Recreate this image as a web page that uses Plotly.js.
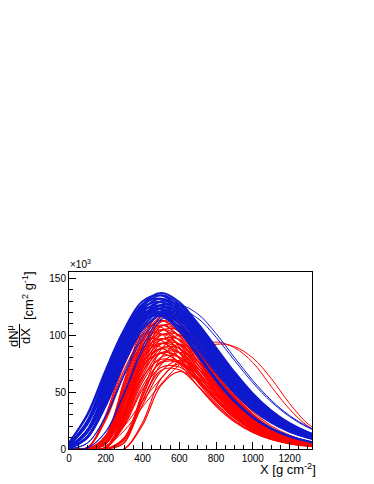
<!DOCTYPE html>
<html>
<head>
<meta charset="utf-8">
<script src="https://cdn.plot.ly/plotly-3.0.1.min.js"></script>
<style>
  body { margin: 0; background: #fff; }
  #chart { width: 374px; height: 484px; }
</style>
</head>
<body>
<div id="chart"></div>
<script>
// slant depth grid (g cm^-2), shared by every profile
const depth = [0, 100, 200, 300, 400, 500, 600, 700, 800, 900, 1000, 1100, 1200, 1300, 1400]

// muon production profiles dN/dX, in units of 10^3
const redProfiles = [
  [0, 1.4, 30.2, 77.9, 106.6, 107.1, 89.5, 66.2, 44.9, 28.5, 17.2, 10.0, 5.6, 3.1, 1.6],
  [0, 1.3, 28.5, 73.6, 100.8, 101.3, 84.7, 62.6, 42.4, 26.9, 16.3, 9.4, 5.3, 2.9, 1.5],
  [0, 1.2, 26.9, 69.4, 95.0, 95.5, 79.8, 59.0, 40.0, 25.4, 15.3, 8.9, 5.0, 2.7, 1.4],
  [0, 1.2, 25.3, 65.1, 89.2, 89.6, 74.9, 55.4, 37.5, 23.8, 14.4, 8.3, 4.7, 2.6, 1.4],
  [0, 0, 12.0, 60.0, 105.5, 121, 109.7, 85.8, 60.5, 39.6, 24.5, 14.5, 8.3, 4.6, 2.5],
  [0, 0, 11.6, 58.0, 102.0, 117, 106.1, 83.0, 58.5, 38.3, 23.7, 14.0, 8.0, 4.4, 2.4],
  [0, 0, 11.2, 56.0, 98.5, 113, 102.5, 80.1, 56.5, 37.0, 22.9, 13.5, 7.7, 4.3, 2.3],
  [0, 0, 10.8, 54.1, 95.0, 109, 98.9, 77.3, 54.5, 35.7, 22.1, 13.0, 7.4, 4.1, 2.2],
  [0, 0, 10.4, 52.1, 91.6, 105, 95.2, 74.4, 52.5, 34.4, 21.3, 12.6, 7.2, 4.0, 2.1],
  [0, 0, 10.0, 50.1, 88.1, 101, 91.6, 71.6, 50.5, 33.1, 20.5, 12.1, 6.9, 3.8, 2.1],
  [0, 0, 9.6, 48.1, 84.6, 97, 88.0, 68.8, 48.5, 31.8, 19.6, 11.6, 6.6, 3.7, 2.0],
  [0, 0, 9.2, 46.1, 81.1, 93, 84.4, 65.9, 46.5, 30.5, 18.8, 11.1, 6.3, 3.5, 1.9],
  [0, 0, 8.7, 43.6, 76.7, 88, 79.8, 62.4, 44.0, 28.8, 17.8, 10.5, 6.0, 3.3, 1.8],
  [0, 0, 8.3, 41.7, 73.2, 84, 76.2, 59.6, 42.0, 27.5, 17.0, 10.1, 5.7, 3.2, 1.7],
  [0, 0, 6.8, 46.6, 95.6, 119.2, 113.8, 92.1, 66.7, 44.5, 27.9, 16.7, 9.6, 5.4, 2.9],
  [0, 0, 6.6, 45.5, 93.2, 116.2, 111.0, 89.9, 65.0, 43.4, 27.2, 16.3, 9.4, 5.2, 2.8],
  [0, 0, 6.4, 43.9, 90.1, 112.3, 107.2, 86.8, 62.8, 41.9, 26.3, 15.7, 9.1, 5.1, 2.7],
  [0, 0, 6.1, 42.4, 86.9, 108.3, 103.5, 83.8, 60.6, 40.5, 25.4, 15.2, 8.7, 4.9, 2.7],
  [0, 0, 5.9, 40.8, 83.7, 104.4, 99.7, 80.7, 58.4, 39.0, 24.5, 14.6, 8.4, 4.7, 2.6],
  [0, 0, 5.7, 39.3, 80.6, 100.4, 95.9, 77.7, 56.2, 37.5, 23.5, 14.1, 8.1, 4.5, 2.5],
  [0, 0, 5.5, 37.8, 77.4, 96.5, 92.2, 74.6, 54.0, 36.0, 22.6, 13.5, 7.8, 4.3, 2.4],
  [0, 0, 5.2, 36.2, 74.3, 92.6, 88.4, 71.6, 51.8, 34.6, 21.7, 13.0, 7.5, 4.2, 2.3],
  [0, 0, 5.0, 34.7, 71.1, 88.6, 84.6, 68.5, 49.6, 33.1, 20.8, 12.4, 7.2, 4.0, 2.2],
  [0, 0, 4.8, 33.1, 67.9, 84.7, 80.9, 65.5, 47.4, 31.6, 19.8, 11.9, 6.8, 3.8, 2.1],
  [0, 0, 4.5, 30.8, 63.2, 78.8, 75.2, 60.9, 44.1, 29.4, 18.5, 11.0, 6.4, 3.5, 1.9],
  [0, 0, 1.5, 32.7, 84.3, 115.4, 115.9, 96.9, 71.6, 48.6, 30.8, 18.6, 10.8, 6.1, 3.3],
  [0, 0, 1.4, 31.6, 81.4, 111.5, 112.0, 93.6, 69.2, 46.9, 29.8, 18.0, 10.4, 5.9, 3.2],
  [0, 0, 1.4, 30.5, 78.6, 107.6, 108.1, 90.4, 66.8, 45.3, 28.7, 17.4, 10.1, 5.6, 3.1],
  [0, 0, 1.3, 29.4, 75.8, 103.7, 104.2, 87.1, 64.4, 43.7, 27.7, 16.7, 9.7, 5.4, 3.0],
  [0, 0, 1.3, 28.3, 72.9, 99.9, 100.3, 83.8, 62.0, 42.0, 26.7, 16.1, 9.3, 5.2, 2.9],
  [0, 0, 1.2, 27.2, 70.1, 96.0, 96.4, 80.6, 59.6, 40.4, 25.6, 15.5, 9.0, 5.0, 2.8],
  [0, 0, 1.2, 26.1, 67.3, 92.1, 92.5, 77.3, 57.2, 38.8, 24.6, 14.9, 8.6, 4.8, 2.6],
  [0, 0, 1.1, 25.0, 64.4, 88.2, 88.6, 74.1, 54.8, 37.1, 23.6, 14.2, 8.3, 4.6, 2.5],
  [0, 0, 1.1, 23.9, 61.6, 84.3, 84.7, 70.8, 52.4, 35.5, 22.5, 13.6, 7.9, 4.4, 2.4],
  [0, 0, 1.0, 22.8, 58.8, 80.5, 80.8, 67.6, 50.0, 33.9, 21.5, 13.0, 7.5, 4.2, 2.3],
  [0, 0, 1.0, 21.4, 55.2, 75.6, 76.0, 63.5, 47.0, 31.8, 20.2, 12.2, 7.1, 4.0, 2.2],
  [0, 0, 0.9, 20.3, 52.4, 71.7, 72.1, 60.2, 44.5, 30.2, 19.2, 11.6, 6.7, 3.8, 2.1],
  [0, 0, 0, 9.9, 49.6, 87.2, 100, 90.7, 70.9, 50.0, 32.8, 20.3, 12.0, 6.8, 3.8],
  [0, 0, 0, 9.1, 45.6, 80.2, 92, 83.4, 65.2, 46.0, 30.1, 18.6, 11.0, 6.3, 3.5],
  [0, 0, 0, 8.4, 42.2, 74.1, 85, 77.1, 60.3, 42.5, 27.8, 17.2, 10.2, 5.8, 3.2],
  [0, 0, 0, 7.7, 38.7, 68.0, 78, 70.7, 55.3, 39.0, 25.6, 15.8, 9.3, 5.3, 2.9],
  [0, 0, 0, 5.9, 47.2, 76.6, 77.3, 61.8, 43.0, 27.4, 16.3, 9.2, 5.0, 2.7, 1.4],
  [0, 0, 0, 5.3, 42.5, 69.0, 69.6, 55.6, 38.7, 24.6, 14.7, 8.3, 4.5, 2.4, 1.2],
  [0, 0, 0, 0, 23.1, 61.6, 75, 66.2, 49.0, 32.5, 19.9, 11.6, 6.4, 3.5, 1.8],
  [0, 0, 0, 0, 20.9, 55.9, 68, 60.0, 44.5, 29.4, 18.1, 10.5, 5.8, 3.1, 1.6]
]

// the two late red showers that come out above the blue band
const redLateProfiles = [
  [0, 0, 5, 20, 42, 62, 78, 89, 94, 89, 76, 55, 35, 20, 11],
  [0, 0, 3, 16, 37, 57, 74, 86, 92, 90, 80, 62, 40, 22, 12]
]

const blueProfiles = [
  [1.2, 16.8, 54.1, 97.0, 127.1, 137, 129.1, 110.3, 87.4, 65.4, 46.6, 32.0, 21.3, 13.7, 8.7],
  [1.2, 16.6, 53.3, 95.5, 125.3, 135, 127.2, 108.7, 86.2, 64.4, 46.0, 31.5, 21.0, 13.5, 8.5],
  [1.1, 16.2, 52.1, 93.4, 122.5, 132, 124.3, 106.2, 84.3, 63.0, 44.9, 30.8, 20.5, 13.2, 8.3],
  [1.1, 15.8, 51.0, 91.3, 119.7, 129, 121.5, 103.8, 82.3, 61.6, 43.9, 30.1, 20.0, 12.9, 8.2],
  [1.1, 15.5, 49.8, 89.2, 116.9, 126, 118.7, 101.4, 80.4, 60.2, 42.9, 29.4, 19.6, 12.6, 8.0],
  [1.1, 15.1, 48.6, 87.0, 114.1, 123, 115.9, 99.0, 78.5, 58.7, 41.9, 28.7, 19.1, 12.3, 7.8],
  [1.0, 14.7, 47.4, 84.9, 111.4, 120, 113.0, 96.6, 76.6, 57.3, 40.9, 28.0, 18.6, 12.0, 7.6],
  [3.6, 24.9, 64.7, 104.9, 129.9, 135.0, 123.9, 103.9, 81.2, 60.0, 42.4, 28.9, 19.1, 12.3, 7.7],
  [3.5, 24.4, 63.2, 102.6, 127.1, 132.0, 121.2, 101.6, 79.4, 58.7, 41.5, 28.3, 18.6, 12.0, 7.5],
  [3.4, 23.8, 61.8, 100.3, 124.2, 129.0, 118.4, 99.3, 77.6, 57.4, 40.6, 27.6, 18.2, 11.7, 7.3],
  [3.4, 23.3, 60.4, 98.0, 121.3, 126.0, 115.7, 97.0, 75.8, 56.1, 39.6, 27.0, 17.8, 11.4, 7.2],
  [3.3, 22.7, 58.9, 95.7, 118.5, 123.0, 113.0, 94.7, 74.0, 54.7, 38.7, 26.4, 17.4, 11.2, 7.0],
  [3.2, 22.2, 57.5, 93.3, 115.6, 120.1, 110.2, 92.4, 72.2, 53.4, 37.8, 25.7, 17.0, 10.9, 6.8],
  [3.1, 21.6, 56.1, 91.0, 112.7, 117.1, 107.5, 90.1, 70.4, 52.1, 36.8, 25.1, 16.5, 10.6, 6.7],
  [0.6, 11.0, 41.8, 82.8, 115.5, 129.9, 126.2, 110.4, 89.2, 67.7, 48.9, 33.9, 22.7, 14.8, 9.4],
  [0.6, 10.7, 40.9, 80.9, 112.8, 126.9, 123.3, 107.8, 87.1, 66.1, 47.7, 33.1, 22.2, 14.4, 9.2],
  [0.6, 10.5, 39.9, 79.0, 110.2, 123.9, 120.4, 105.3, 85.1, 64.6, 46.6, 32.3, 21.7, 14.1, 8.9],
  [0.5, 10.2, 39.0, 77.1, 107.5, 121.0, 117.5, 102.8, 83.0, 63.0, 45.5, 31.5, 21.1, 13.7, 8.7],
  [0.5, 9.9, 38.0, 75.2, 104.9, 118.0, 114.6, 100.3, 81.0, 61.5, 44.4, 30.8, 20.6, 13.4, 8.5],
  [5.6, 30.5, 69.5, 104.4, 122.8, 123.1, 110.0, 90.4, 69.5, 50.7, 35.4, 23.9, 15.6, 10.0, 6.2],
  [5.4, 29.5, 67.2, 101.0, 118.9, 119.1, 106.5, 87.5, 67.2, 49.1, 34.3, 23.1, 15.1, 9.7, 6.0],
  [2.7, 15.3, 45.3, 87.7, 116.1, 120.3, 106.2, 84.1, 61.6, 42.6, 28.2, 18.1, 11.3, 6.9, 4.1],
  [2.6, 14.9, 44.1, 85.5, 113.3, 117.3, 103.6, 82.0, 60.1, 41.6, 27.5, 17.6, 11.0, 6.7, 4.0]
]

// late blue showers: thin lines crossing the red region and running above the band
const blueLateProfiles = [
  [0, 5.3, 29.2, 66.7, 100.2, 117.9, 118.1, 105.6, 86.7, 66.7, 48.7, 34.0, 22.9, 15.0, 9.6],
  [0, 5.2, 28.3, 64.5, 96.9, 114.0, 114.2, 102.1, 83.8, 64.5, 47.0, 32.9, 22.2, 14.5, 9.3],
  [0, 1.1, 15.5, 49.8, 89.2, 116.9, 126, 118.7, 101.4, 80.4, 60.2, 42.9, 29.4, 19.6, 12.6],
  [0, 1.0, 15.0, 48.2, 86.3, 113.2, 122, 114.9, 98.2, 77.9, 58.2, 41.5, 28.5, 18.9, 12.2]
]

const xTicks = [0, 200, 400, 600, 800, 1000, 1200]
const yTicks = [0, 50, 100, 150]
const yTickText = ['0', '50', '100', '150']

// plot box in pixels, used to place the labels around it
const L = 69, T = 272, W = 243, H = 177
function px(x){ return (x - L) / W }
function py(y){ return (T + H - y) / H }

const font = 'Liberation Sans, Arial, sans-serif'
const red = '#ff0000'
const blue = 'rgb(15,25,205)'

function profileTrace(values, color, width){
    return {
        type: 'scatter',
        mode: 'lines',
        x: depth,
        y: values,
        line: {color: color, width: width, shape: 'spline', smoothing: 1},
        hoverinfo: 'skip',
        showlegend: false
    }
}

const data = []
for (const p of redProfiles) data.push(profileTrace(p, red, 1.1))
for (const p of redLateProfiles) data.push(profileTrace(p, red, 1))
for (const p of blueProfiles) data.push(profileTrace(p, blue, 1.9))
for (const p of blueLateProfiles) data.push(profileTrace(p, blue, 1))

const axisBase = {
    showgrid: false,
    zeroline: false,
    showline: true,
    mirror: true,
    linecolor: '#000',
    linewidth: 1,
    ticks: 'inside',
    tickcolor: '#000',
    tickwidth: 1,
    tickfont: {family: font, size: 10, color: '#000'}
}

const layout = {
    width: 374,
    height: 484,
    margin: {l: L, r: 374 - L - W, t: T, b: 484 - T - H},
    paper_bgcolor: '#fff',
    plot_bgcolor: '#fff',
    showlegend: false,
    xaxis: Object.assign({}, axisBase, {
        range: [0, 1322],
        tickvals: xTicks,
        ticklen: 7,
        minor: {dtick: 50, tick0: 0, ticks: 'inside', ticklen: 4, tickcolor: '#000', tickwidth: 1}
    }),
    yaxis: Object.assign({}, axisBase, {
        range: [0, 155.5],
        tickvals: yTicks,
        ticktext: yTickText,
        ticklen: 7,
        minor: {dtick: 10, tick0: 0, ticks: 'inside', ticklen: 4, tickcolor: '#000', tickwidth: 1}
    }),
    annotations: [
        {text: '×10<sup>3</sup>', xref: 'paper', yref: 'paper', x: px(68), y: py(272),
         xanchor: 'left', yanchor: 'bottom', showarrow: false, font: {family: font, size: 10, color: '#000'}},
        {text: 'X [g cm<sup>-2</sup>]', xref: 'paper', yref: 'paper', x: px(318), y: py(469),
         xanchor: 'right', yanchor: 'middle', showarrow: false, font: {family: font, size: 13, color: '#000'}},
        {text: 'dN<sup>μ</sup>', xref: 'paper', yref: 'paper', x: px(13), y: py(336), textangle: -90,
         xanchor: 'center', yanchor: 'middle', showarrow: false, font: {family: font, size: 13, color: '#000'}},
        {text: 'dX', xref: 'paper', yref: 'paper', x: px(25), y: py(336), textangle: -90,
         xanchor: 'center', yanchor: 'middle', showarrow: false, font: {family: font, size: 13, color: '#000'}},
        {text: '[cm<sup>2</sup> g<sup>-1</sup>]', xref: 'paper', yref: 'paper', x: px(28), y: py(296), textangle: -90,
         xanchor: 'center', yanchor: 'middle', showarrow: false, font: {family: font, size: 13, color: '#000'}}
    ],
    shapes: [
        {type: 'line', xref: 'paper', yref: 'paper', x0: px(19.5), x1: px(19.5), y0: py(324), y1: py(348),
         line: {color: '#000', width: 1}}
    ]
}

Plotly.newPlot('chart', data, layout, {staticPlot: true, displayModeBar: false})
</script>
</body>
</html>
